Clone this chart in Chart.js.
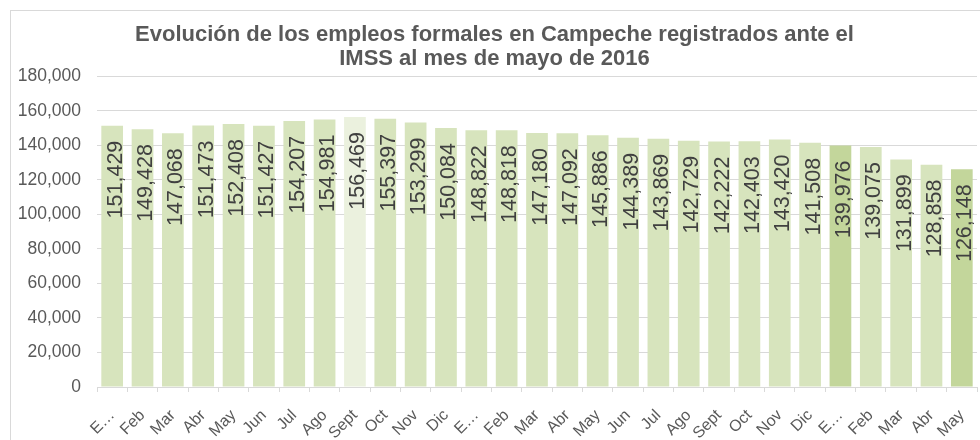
<!DOCTYPE html>
<html>
<head>
<meta charset="utf-8">
<script src="https://cdn.jsdelivr.net/npm/chart.js@4.4.1/dist/chart.umd.min.js"></script>
<style>
  html, body { margin: 0; padding: 0; background: #fff; overflow: hidden; }
  #frame { position: absolute; left: 10px; top: 10px; width: 1200px; height: 600px; border: 1px solid #d9d9d9; }
  #chart { position: absolute; left: 0; top: 0; }
</style>
</head>
<body>
<div id="frame"></div>
<canvas id="chart" width="980" height="440"></canvas>
<script>
const months = ['E…', 'Feb', 'Mar', 'Abr', 'May', 'Jun', 'Jul', 'Ago', 'Sept', 'Oct', 'Nov', 'Dic',
    'E…', 'Feb', 'Mar', 'Abr', 'May', 'Jun', 'Jul', 'Ago', 'Sept', 'Oct', 'Nov', 'Dic',
    'E…', 'Feb', 'Mar', 'Abr', 'May'];
const empleos = [151429, 149428, 147068, 151473, 152408, 151427, 154207, 154981, 156469, 155397, 153299, 150084,
    148822, 148818, 147180, 147092, 145886, 144389, 143869, 142729, 142222, 142403, 143420, 141508,
    139976, 139075, 131899, 128858, 126148];
const yTicks = [0, 20000, 40000, 60000, 80000, 100000, 120000, 140000, 160000, 180000];

const base = '#d7e4bd';
const pale = '#ebf1de';
const dark = '#c3d69b';
const barColors = empleos.map((v, i) => {
    if (i === 8) return pale;
    if (i === 24 || i === 28) return dark;
    return base;
});

const fmt = v => v.toLocaleString('en-US');

// etiquetas dentro de la barra, giradas
const barLabels = {
    id: 'barLabels',
    afterDatasetsDraw(chart) {
        const ctx = chart.ctx;
        const meta = chart.getDatasetMeta(0);
        ctx.save();
        ctx.font = '21.5px "Liberation Sans", Arial, sans-serif';
        ctx.fillStyle = '#404040';
        ctx.textAlign = 'right';
        ctx.textBaseline = 'alphabetic';
        meta.data.forEach((bar, i) => {
            ctx.save();
            ctx.translate(bar.x + 9.5, bar.y + 15);
            ctx.rotate(-Math.PI / 2);
            ctx.fillText(fmt(empleos[i]), 0, 0);
            ctx.restore();
        });
        ctx.restore();
    }
};

new Chart(document.getElementById('chart'), {
    type: 'bar',
    data: {
        labels: months,
        datasets: [{
            data: empleos,
            backgroundColor: barColors,
            borderWidth: 0,
            categoryPercentage: 1,
            barPercentage: 0.715
        }]
    },
    options: {
        responsive: false,
        animation: false,
        devicePixelRatio: 1,
        layout: { padding: { left: 12, right: 3, top: 0, bottom: 0 } },
        plugins: {
            legend: { display: false },
            tooltip: { enabled: false },
            title: {
                display: true,
                text: ['Evolución de los empleos formales en Campeche registrados ante el',
                    'IMSS al mes de mayo de 2016'],
                color: '#595959',
                font: { family: '"Liberation Sans", Arial, sans-serif', size: 22, weight: 'bold', lineHeight: 1.1 },
                padding: { top: 23, bottom: 5 }
            }
        },
        scales: {
            x: {
                grid: { display: true, drawOnChartArea: false, drawTicks: true, tickLength: 5, color: '#d9d9d9', offset: true },
                border: { display: true, color: '#d9d9d9' },
                ticks: {
                    autoSkip: false,
                    minRotation: 45,
                    maxRotation: 45,
                    padding: 14,
                    color: '#595959',
                    font: { family: '"Liberation Sans", Arial, sans-serif', size: 16 }
                },
                afterFit(scale) {
                    scale.height = 53;
                    scale.paddingLeft = 0;
                    scale.paddingRight = 0;
                }
            },
            y: {
                min: 0,
                max: 180000,
                afterBuildTicks(scale) { scale.ticks = yTicks.map(v => ({ value: v })); },
                grid: { color: '#d9d9d9', drawTicks: false },
                border: { display: false },
                ticks: {
                    padding: 16,
                    color: '#595959',
                    font: { family: '"Liberation Sans", Arial, sans-serif', size: 17.5 },
                    callback: v => fmt(v)
                },
                afterFit(scale) { scale.width = 85; }
            }
        }
    },
    plugins: [barLabels]
});
</script>
</body>
</html>
